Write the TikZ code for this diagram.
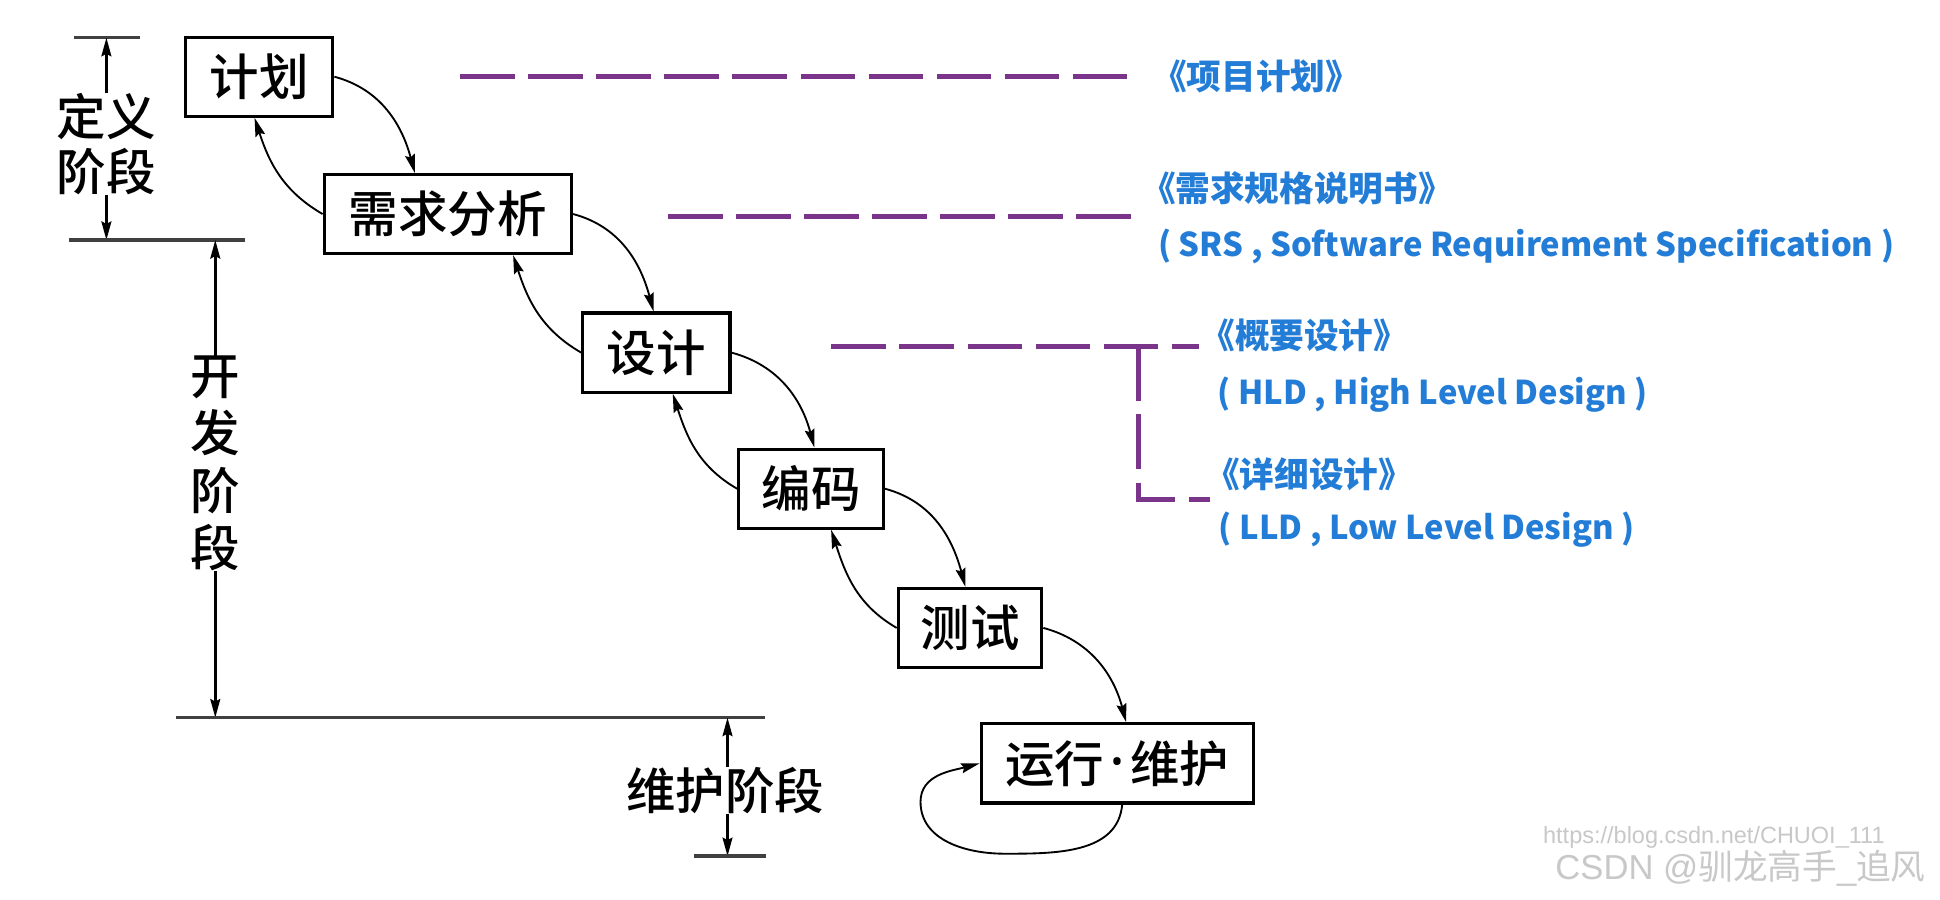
\documentclass[tikz,border=0pt]{standalone}
\usepackage{fontspec}
\newfontfamily\cjk{Noto Sans CJK SC}
\newfontfamily\cjkm{Noto Sans CJK SC Medium}
\newfontfamily\wmfont{Liberation Sans}
\newfontfamily\dotfont{Noto Sans}
\usetikzlibrary{arrows.meta,calc}
\definecolor{dpurple}{RGB}{122,52,138}
\definecolor{tblue}{RGB}{35,125,215}
\definecolor{wmgray}{RGB}{200,200,200}
\begin{document}
\begin{tikzpicture}[x=1pt,y=1pt,
  stage/.style={draw,line width=2.5pt,minimum height=64pt,inner sep=0pt,font=\cjkm\fontsize{40}{42}\selectfont},
  flow/.style={line width=1.5pt,-{Stealth[length=15pt,width=8pt,inset=2pt]}},
  dim/.style={line width=2pt,-{Stealth[length=15pt,width=8pt,inset=2pt]}},
  rule/.style={line width=2.8pt,draw=black!75},
  phase/.style={font=\cjkm\fontsize{40}{44}\selectfont,inner sep=0pt,align=center},
  docline/.style={draw=dpurple,line width=4pt,dash pattern=on 44pt off 11pt},
  doctext/.style={text=tblue,font=\cjk\bfseries\fontsize{28}{30}\selectfont,inner sep=0pt,anchor=west},
  doclatin/.style={text=tblue,font=\cjk\bfseries\fontsize{26.5}{30}\selectfont,inner sep=0pt,anchor=west},
  wm/.style={text=wmgray,inner sep=0pt,anchor=west},
]
\useasboundingbox (0,0) rectangle (1568,-727);
\fill[white] (0,0) rectangle (1568,-727);

% stages
\node[stage,minimum width=119pt] (jh) at (209.5,-62) {计划};
\node[stage,minimum width=200pt] (xq) at (362,-173) {需求分析};
\node[stage,minimum width=119pt] (sj) at (530.5,-285) {设计};
\node[stage,minimum width=117pt] (bm) at (655.5,-395) {编码};
\node[stage,minimum width=116pt] (cs) at (784,-507.5) {测试};
\node[stage,minimum width=220pt] (yx) at (903,-617) {运行\hspace{4pt}{\dotfont\bfseries\fontsize{48}{48}\selectfont ·}\hspace{4pt}维护};

% forward arrows
\draw[flow] (jh.east) to[out=-15,in=105] ($(jh.east |- xq.north)+(65,0)$);
\draw[flow] (xq.east) to[out=-15,in=105] ($(xq.east |- sj.north)+(65,0)$);
\draw[flow] (sj.east) to[out=-15,in=105] ($(sj.east |- bm.north)+(67,0)$);
\draw[flow] (bm.east) to[out=-15,in=105] ($(bm.east |- cs.north)+(65,0)$);
\draw[flow] (cs.east) to[out=-15,in=105] ($(cs.east |- yx.north)+(67,0)$);
% backward arrows
\draw[flow] (xq.west) to[out=150,in=-72] ($(xq.west |- jh.south)+(-55,0)$);
\draw[flow] (sj.west) to[out=150,in=-72] ($(sj.west |- xq.south)+(-55,0)$);
\draw[flow] (bm.west) to[out=150,in=-72] ($(bm.west |- sj.south)+(-52,0)$);
\draw[flow] (cs.west) to[out=150,in=-72] ($(cs.west |- bm.south)+(-53,0)$);
% self loop
\coordinate (lpb) at (812,-690);
\coordinate (lpl) at (744,-648);
\draw[flow] ($(yx.south)+(4,0)$) to[out=-95,in=0] (lpb) to[out=180,in=-90] (lpl) to[out=90,in=195] (yx.west);

% phase: definition
\coordinate (a0) at (86,-30.5);
\coordinate (a1) at (86,-194);
\draw[rule] (60,-30.5) -- (113,-30.5);
\node[phase] (dy) at (86,-116.5) {定义\\阶段};
\draw[dim] (dy.north) -- (a0);
\draw[dim] (dy.south) -- (a1);
\draw[rule] (56,-194) -- (198,-194);
% phase: development
\coordinate (a2) at (174,-194);
\coordinate (a3) at (174,-580);
\node[phase,font=\cjkm\fontsize{40}{46.3}\selectfont] (kf) at (174,-374.5) {开\\发\\阶\\段};
\draw[dim] (kf.north) -- (a2);
\draw[dim] (kf.south) -- (a3);
\draw[rule] (142,-580) -- (618,-580);
% phase: maintenance
\coordinate (a4) at (588,-580);
\coordinate (a5) at (588,-692);
\node[phase] (wh) at (586,-639) {维护阶段};
\draw[dim] (wh.north -| a4) -- (a4);
\draw[dim] (wh.south -| a5) -- (a5);
\draw[rule] (561,-692) -- (619,-692);

% documents
\coordinate (d1s) at (372,-61.5);
\coordinate (d1e) at (915,-61.5);
\draw[docline] (d1s) -- (d1e);
\coordinate (d2s) at (540,-175);
\coordinate (d2e) at (917,-175);
\draw[docline] (d2s) -- (d2e);
\coordinate (d3s) at (672,-280);
\coordinate (d3e) at (969,-280);
\coordinate (d3c) at (920,-280);
\coordinate (d3b) at (978,-404);
\draw[docline] (d3s) -- (d3e);
\draw[docline] (d3c) |- (d3b);

\node[doctext] (t1) at (931,-62) {《项目计划》};
\node[doctext] (t2) at (922,-152) {《需求规格说明书》};
\node[doclatin] (t2b) at (936,-199) {( SRS , Software Requirement Specification )};
\node[doctext] (t3) at (970,-271) {《概要设计》};
\node[doclatin] (t3b) at (984,-319) {( HLD , High Level Design )};
\node[doctext] (t4) at (974,-383) {《详细设计》};
\node[doclatin] (t4b) at (985,-428) {( LLD , Low Level Design )};

% watermark
\node[wm,font=\wmfont\fontsize{19}{20}\selectfont] (w1) at (1247,-677) {https://blog.csdn.net/CHUOI\_111};
\node[wm,font=\fontsize{28}{30}\selectfont] (w2) at (1257,-702) {{\wmfont CSDN @}{\cjk 驯龙高手}{\wmfont\_}{\cjk 追风}};
\end{tikzpicture}
\end{document}
